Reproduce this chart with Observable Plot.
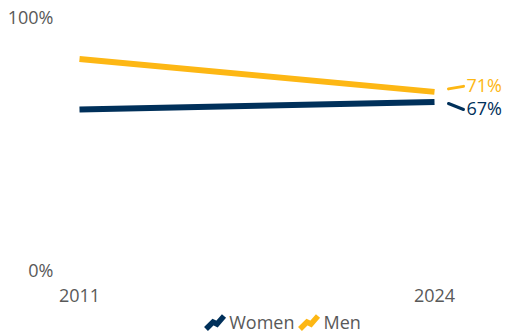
<!DOCTYPE html>
<html>
<head>
<meta charset="utf-8">
<script src="https://cdn.jsdelivr.net/npm/d3@7"></script>
<script src="https://cdn.jsdelivr.net/npm/@observablehq/plot@0.6"></script>
<style>
  html, body { margin: 0; padding: 0; background: #fff; }
  body { font-family: "Open Sans", sans-serif; width: 508px; height: 334px; overflow: hidden; }
  #chart svg { display: block; }
  #legend { display: flex; justify-content: center; align-items: center; gap: 4px;
            height: 20px; line-height: 20px; margin-top: 6px; font-size: 18px; color: #595959; padding-left: 57px; }
  #legend .item { display: flex; align-items: center; gap: 3px; }
  #legend svg { display: block; overflow: visible; }
</style>
</head>
<body>
<div id="chart"></div>
<div id="legend"></div>
<script>
// Share of adults (%) by sex, first and latest survey year
const years = [2011, 2024];
const series = ["Women", "Men"];
const women = [64, 67];
const men = [84, 71];
const yTicks = [0, 100];

const colors = {Women: "#00305a", Men: "#fdb714"};
const textGray = "#595959";

const values = {Women: women, Men: men};
const rows = series.flatMap(s => years.map((year, i) => ({series: s, year, value: values[s][i]})));
const last = series.map(s => ({series: s, year: years[years.length - 1], value: values[s][years.length - 1]}));

// plot geometry
const W = 508, H = 306;
const mL = 79, mR = 74, mT = 18, mB = 35;
const pxPerYear = (W - mL - mR) / (years[1] - years[0]);
const pxPerPct = (H - mT - mB) / (yTicks[1] - yTicks[0]);

// vertical nudges (px) that keep the end labels apart; leaders run from the line end toward the label
const labelNudge = {Women: 7.5, Men: -5.5};
const leaderStart = {Women: 1.5, Men: -3};
const leaders = last.map(d => ({
  series: d.series,
  x1: d.year + 14 / pxPerYear,
  x2: d.year + 29 / pxPerYear,
  y1: d.value - leaderStart[d.series] / pxPerPct,
  y2: d.value - labelNudge[d.series] / pxPerPct
}));

const endLabels = last.map(d =>
  Plot.text([d], {x: "year", y: "value", text: d => d.value + "%", fill: colors[d.series],
    textAnchor: "start", dx: 32, dy: labelNudge[d.series], fontSize: 18})
);

const chart = Plot.plot({
  width: W,
  height: H,
  marginLeft: mL,
  marginRight: mR,
  marginTop: mT,
  marginBottom: mB,
  style: {fontFamily: "Open Sans, sans-serif", fontSize: "18px", color: textGray, background: "#fff"},
  x: {domain: [years[0], years[1]], label: null},
  y: {domain: [yTicks[0], yTicks[1]], label: null},
  marks: [
    Plot.axisX({ticks: years, tickFormat: d => String(d), tickSize: 0, tickPadding: 18, fontSize: 18, fill: textGray, label: null}),
    Plot.axisY({ticks: yTicks, tickFormat: d => d + "%", tickSize: 0, tickPadding: 26, fontSize: 18, fill: textGray, label: null}),
    Plot.line(rows, {x: "year", y: "value", z: "series", stroke: d => colors[d.series], strokeWidth: 6, strokeLinecap: "butt"}),
    Plot.link(leaders, {x1: "x1", x2: "x2", y1: "y1", y2: "y2", stroke: d => colors[d.series], strokeWidth: 3, strokeLinecap: "round"}),
    ...endLabels
  ]
});
document.getElementById("chart").appendChild(chart);

// legend with small zigzag line swatches
const legend = d3.select("#legend");
for (const s of series) {
  const item = legend.append("div").attr("class", "item");
  const sw = item.append("svg").attr("width", 22).attr("height", 20);
  sw.append("path")
    .attr("d", "M2,17 L9,10 L13,12 L20,4")
    .attr("fill", "none")
    .attr("stroke", colors[s])
    .attr("stroke-width", 5.5)
    .attr("stroke-linejoin", "miter");
  item.append("span").text(s);
}
</script>
</body>
</html>
